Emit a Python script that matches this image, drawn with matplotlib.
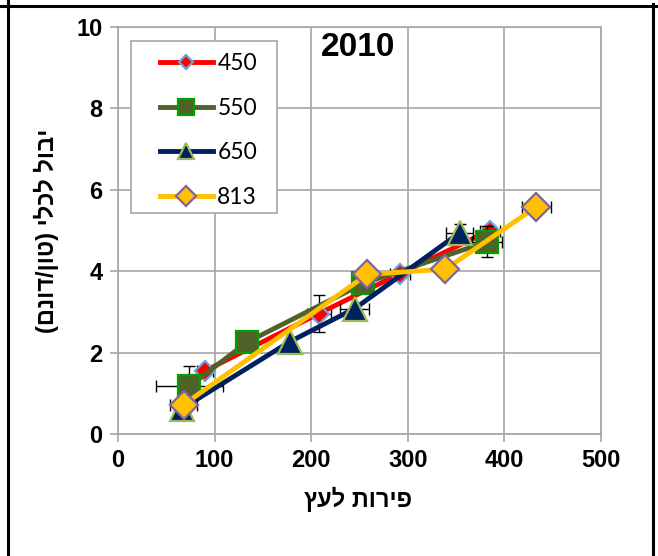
import matplotlib
matplotlib.use("Agg")
import matplotlib.pyplot as plt
from matplotlib.lines import Line2D
from matplotlib.patches import Rectangle

plt.rcParams["font.family"] = ["Liberation Sans", "DejaVu Sans"]

# fruits per tree (x) vs total yield ton/dunam (y)
series_names = ["450", "550", "650", "813"]

x_450 = [90, 208, 292, 385]
y_450 = [1.55, 2.96, 3.94, 5.00]
xerr_450 = [8, 12, 10, 10]
yerr_450 = [0.10, 0.45, 0.08, 0.10]

x_550 = [74, 134, 254, 382]
y_550 = [1.18, 2.26, 3.70, 4.72]
xerr_550 = [35, 0, 0, 16]
yerr_550 = [0.50, 0, 0, 0.38]

x_650 = [66, 178, 245, 354]
y_650 = [0.62, 2.27, 3.08, 4.95]
xerr_650 = [0, 0, 15, 14]
yerr_650 = [0, 0, 0, 0.22]

x_813 = [68, 258, 339, 433]
y_813 = [0.72, 3.92, 4.05, 5.58]
xerr_813 = [14, 0, 0, 15]
yerr_813 = [0, 0, 0.18, 0]

xticks = [0, 100, 200, 300, 400, 500]
yticks = [0, 2, 4, 6, 8, 10]

W, H = 658, 556
fig = plt.figure(figsize=(W / 100, H / 100), dpi=100)
ax = fig.add_axes([118 / W, 1 - 434 / H, 483 / W, 407 / H])

grid_c = "#a6a6a6"

styles = [
    dict(color="#ff0000", marker="D", ms=10, mfc="#ff0000", mec="#6fa0dc"),
    dict(color="#4f6228", marker="s", ms=16, mfc="#4f6228", mec="#00a000"),
    dict(color="#002060", marker="^", ms=17, mfc="#002060", mec="#9bbb59"),
    dict(color="#ffc000", marker="D", ms=14, mfc="#ffc000", mec="#8064a2"),
]
data = [
    (x_450, y_450, xerr_450, yerr_450),
    (x_550, y_550, xerr_550, yerr_550),
    (x_650, y_650, xerr_650, yerr_650),
    (x_813, y_813, xerr_813, yerr_813),
]

handles = []
for i, ((xs, ys, xe, ye), st) in enumerate(zip(data, styles)):
    ax.errorbar(xs, ys, xerr=xe, yerr=ye, fmt="none", ecolor="black",
                elinewidth=1.0, capsize=4, capthick=1.0, zorder=2 + i)
    ln, = ax.plot(xs, ys, lw=3.5, mew=1.6, zorder=3 + i,
                  label=series_names[i], **st)
    handles.append(ln)

ax.set_xlim(0, 500)
ax.set_ylim(0, 10)
ax.set_xticks(xticks)
ax.set_yticks(yticks)
ax.grid(True, color=grid_c, lw=1.2)
ax.set_axisbelow(True)
for s in ax.spines.values():
    s.set_color(grid_c)
    s.set_linewidth(1.2)
ax.tick_params(colors=grid_c, length=6, width=1.2, labelcolor="black",
               labelsize=17, pad=5)
for lab in ax.get_xticklabels() + ax.get_yticklabels():
    lab.set_fontweight("bold")

ax.set_xlabel("ץעל תוריפ", fontsize=17, fontweight="bold")
ax.xaxis.set_label_coords(0.497, -0.13)
ax.set_ylabel("(םנוד/ןוט) ילכל לובי", fontsize=17, fontweight="bold")
ax.yaxis.set_label_coords(-0.122, 0.50)

ax.text(0.497, 0.95, "2010", transform=ax.transAxes, ha="center",
        va="center", fontsize=24, fontweight="bold")

# legend box like Excel
ax.add_patch(Rectangle(((131 - 118) / 483, (434 - 213) / 407),
                       146 / 483, 172 / 407, transform=ax.transAxes,
                       facecolor="white", edgecolor=grid_c, lw=1.2, zorder=10))
leg = ax.legend(handles=handles, loc="upper left",
                bbox_to_anchor=((160 - 118) / 483, (434 - 53) / 407),
                frameon=False, borderpad=0, borderaxespad=0,
                handlelength=2.3, handletextpad=0.2, labelspacing=1.03,
                markerscale=0.7, prop={"family": "Lato", "size": 16.5})
leg.set_zorder(11)

# table cell frame around the chart
px = lambda v: v / W
py = lambda v: 1 - v / H
fig.add_artist(Line2D([0, 1], [py(6), py(6)], color="black", lw=2.2))
fig.add_artist(Line2D([px(7.5), px(7.5)], [0, 1], color="black", lw=2.2))
fig.add_artist(Line2D([px(653), px(653)], [0, py(4)], color="black", lw=2.2))

fig.savefig("out.png", dpi=100)
